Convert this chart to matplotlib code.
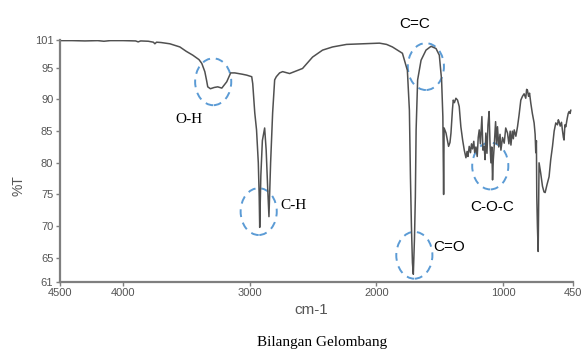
import matplotlib.pyplot as plt
from matplotlib.patches import Ellipse

# wavenumber (cm-1) and transmittance (%T)
wn = [4500, 4400, 4300, 4200, 4150, 4100, 4000, 3900, 3880, 3860, 3800, 3760, 3748, 3735,
      3700, 3630, 3551, 3500, 3449, 3400, 3378, 3354, 3340, 3331, 3310, 3280, 3252, 3220,
      3181, 3150, 3118, 3060, 3024, 3000, 2984, 2976, 2960, 2946, 2932, 2925, 2921, 2912,
      2900, 2882, 2870, 2858, 2848, 2835, 2819, 2803, 2790, 2764, 2740, 2685, 2583, 2504,
      2425, 2346, 2236, 2110, 1976, 1920, 1874, 1795, 1756, 1740, 1732, 1724, 1716, 1709,
      1700, 1693, 1687, 1675, 1648, 1609, 1569, 1530, 1504, 1486, 1476, 1470, 1466, 1451,
      1440, 1431, 1420, 1412, 1400, 1394, 1385, 1373, 1360, 1347, 1334, 1320, 1307, 1294,
      1285, 1278, 1268, 1258, 1250, 1242, 1232, 1225, 1215, 1205, 1197, 1189, 1180, 1168,
      1160, 1150, 1143, 1137, 1128, 1120, 1111, 1104, 1097, 1090, 1084, 1078, 1071, 1060,
      1052, 1045, 1035, 1025, 1018, 1005, 992, 980, 966, 955, 945, 939, 928, 920, 913, 900,
      887, 875, 861, 848, 835, 822, 815, 809, 800, 792, 782, 770, 756, 748, 743, 738, 735,
      730, 724, 720, 717, 705, 690, 678, 669, 655, 638, 625, 611, 598, 585, 572, 565, 559,
      550, 540, 533, 525, 520, 513, 506, 495, 487, 480, 472, 467]
T = [99.3, 99.3, 99.25, 99.3, 99.2, 99.3, 99.3, 99.25, 99.1, 99.25, 99.2, 99.05, 98.8, 99.05,
     99.0, 98.8, 98.3, 97.6, 97.0, 96.3, 95.7, 94.4, 93.0, 92.0, 91.7, 91.9, 92.0, 91.8,
     92.8, 94.2, 94.2, 94.0, 93.85, 93.7, 93.6, 92.5, 87.9, 85.2, 80.0, 74.7, 69.8, 78.0,
     83.5, 85.5, 82.0, 76.0, 71.5, 80.0, 87.9, 93.1, 93.6, 94.2, 94.4, 94.1, 94.9, 96.7,
     97.8, 98.3, 98.7, 98.8, 98.9, 98.7, 98.3, 97.3, 94.6, 88.3, 78.0, 70.0, 64.2, 62.4,
     68.0, 74.6, 85.2, 93.1, 96.2, 97.8, 98.4, 98.05, 97.0, 93.1, 87.3, 75.0, 85.5, 84.7,
     83.5, 82.6, 83.2, 84.7, 88.5, 89.9, 89.5, 90.2, 89.9, 88.9, 85.7, 83.6, 82.0, 80.8,
     81.8, 81.0, 82.6, 81.6, 83.0, 82.2, 83.4, 81.6, 82.5, 81.0, 84.0, 85.2, 83.0, 87.3,
     82.0, 82.6, 80.5, 84.7, 81.5, 86.0, 88.1, 83.0, 80.0, 82.5, 77.3, 80.5, 82.6, 86.5,
     83.0, 85.7, 82.5, 84.5, 82.0, 84.0, 83.1, 85.5, 84.7, 83.0, 85.0, 82.8, 85.0, 83.8, 85.2, 84.2,
     85.7, 87.5, 89.9, 90.5, 90.9, 90.2, 91.6, 91.5, 90.5, 91.0, 89.4, 87.8, 86.3, 84.5, 81.6, 83.5, 74.7,
     70.0, 66.0, 75.0, 80.0, 78.5, 76.3, 75.4, 75.3, 76.5, 77.8, 80.5, 82.6, 85.0, 86.3, 86.0, 86.8, 86.5,
     85.8, 86.4, 85.2, 84.0, 83.6, 86.0, 85.7, 87.0, 87.8, 88.1, 87.8, 88.3]

# y axis: the top tick is printed as 101 although it sits just above 99
ytick_pos = [61.2, 65, 70, 75, 80, 85, 90, 95, 99.45]
ytick_lab = ['61', '65', '70', '75', '80', '85', '90', '95', '101']
xtick_pos = [4500, 4000, 3000, 2000, 1000, 450]

# functional groups: label, label position, circle centre
groups = ['O-H', 'C-H', 'C=C', 'C=O', 'C-O-C']
label_wn = [3480, 2658, 1701, 1425, 1087]
label_T = [86.8, 73.3, 102.0, 66.7, 73.0]
circle_wn = [3288, 2929, 1610, 1701, 1102]
circle_T = [92.8, 72.3, 95.2, 65.4, 79.5]
serif_label = [True, True, False, False, False]

grey = '#7f7f7f'
sans = ['Liberation Sans', 'DejaVu Sans']

fig = plt.figure(figsize=(5.84, 3.51), dpi=100)
ax = fig.add_axes([0.102, 0.197, 0.879, 0.69])

ax.plot(wn, T, color='#505050', lw=1.1)

ax.set_xlim(4500, 450)
ax.set_ylim(61.2, 99.45)
ax.set_xticks(xtick_pos)
ax.set_xticklabels([str(v) for v in xtick_pos], family=sans, fontsize=8, color='#555555')
ax.set_yticks(ytick_pos)
ax.set_yticklabels(ytick_lab, family=sans, fontsize=8, color='#555555')
ax.tick_params(length=3, width=1, color=grey, pad=1.5)

for s in ['top', 'right']:
    ax.spines[s].set_visible(False)
for s in ['left', 'bottom']:
    ax.spines[s].set_color(grey)
    ax.spines[s].set_linewidth(1.6)

for i in range(len(groups)):
    e = Ellipse((circle_wn[i], circle_T[i]), 285, 7.4, fill=False,
                edgecolor='#5b9bd5', lw=1.4, ls=(0, (4, 3)), clip_on=False)
    ax.add_patch(e)
    if serif_label[i]:
        ax.text(label_wn[i], label_T[i], groups[i], family='Liberation Serif', fontsize=11,
                ha='center', va='center', clip_on=False)
    else:
        ax.text(label_wn[i], label_T[i], groups[i], family=sans, fontsize=11,
                ha='center', va='center', clip_on=False)

fig.text(0.032, 0.47, '%T', rotation=90, family=sans, fontsize=10, color='#555555',
         ha='center', va='center')
fig.text(0.533, 0.117, 'cm-1', family=sans, fontsize=11, color='#555555',
         ha='center', va='center')
fig.text(0.551, 0.023, 'Bilangan Gelombang', family='Liberation Serif', fontsize=11,
         ha='center', va='center')

plt.savefig('out.png', dpi=100)
